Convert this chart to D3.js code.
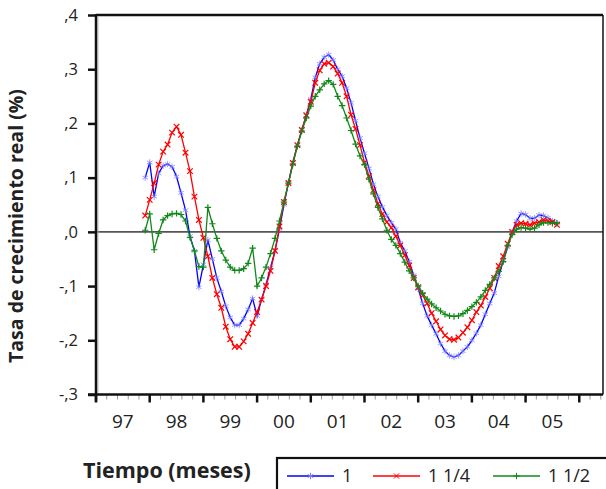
<!DOCTYPE html>
<html><head><meta charset="utf-8">
<script src="https://cdn.jsdelivr.net/npm/d3@7"></script>
<style>body{margin:0;background:#fff}svg{display:block}text{font-family:"Open Sans",sans-serif;fill:#222}</style>
</head><body><svg id="c" width="606" height="489"></svg>
<script>
const startMonth = 11; // months since Jan 1997 (Dec 1997)
const yearLabels = ["97","98","99","00","01","02","03","04","05"];
const yTickValues = [0.4,0.3,0.2,0.1,0,-0.1,-0.2,-0.3];
const yTickLabels = [",4",",3",",2",",1",",0","-,1","-,2","-,3"];
const seriesNames = ["1","1 1/4","1 1/2"];
const s1 = [0.100,0.128,0.065,0.108,0.122,0.125,0.120,0.102,0.072,0.040,-0.008,-0.035,-0.102,-0.060,-0.015,-0.050,-0.085,-0.110,-0.137,-0.158,-0.172,-0.172,-0.160,-0.143,-0.123,-0.155,-0.125,-0.097,-0.066,-0.035,0.005,0.050,0.090,0.128,0.160,0.188,0.215,0.245,0.285,0.310,0.322,0.327,0.317,0.300,0.287,0.265,0.238,0.205,0.173,0.145,0.117,0.088,0.065,0.046,0.030,0.017,0.005,-0.020,-0.035,-0.055,-0.080,-0.105,-0.132,-0.155,-0.172,-0.188,-0.206,-0.220,-0.228,-0.231,-0.228,-0.220,-0.212,-0.200,-0.187,-0.172,-0.152,-0.132,-0.113,-0.082,-0.054,-0.028,0.000,0.020,0.034,0.032,0.025,0.025,0.031,0.030,0.026,0.020,0.016];
const s2 = [0.030,0.059,0.090,0.124,0.148,0.161,0.183,0.194,0.179,0.146,0.112,0.065,0.022,-0.011,-0.045,-0.085,-0.115,-0.140,-0.175,-0.198,-0.212,-0.212,-0.202,-0.188,-0.168,-0.148,-0.125,-0.100,-0.072,-0.035,0.010,0.055,0.090,0.127,0.160,0.188,0.215,0.240,0.275,0.298,0.310,0.312,0.305,0.292,0.275,0.250,0.216,0.190,0.160,0.128,0.103,0.077,0.052,0.033,0.018,0.008,-0.008,-0.025,-0.043,-0.062,-0.085,-0.102,-0.117,-0.132,-0.150,-0.165,-0.180,-0.191,-0.198,-0.199,-0.195,-0.186,-0.176,-0.163,-0.148,-0.136,-0.120,-0.104,-0.085,-0.063,-0.045,-0.022,0.000,0.013,0.016,0.015,0.013,0.016,0.018,0.022,0.020,0.018,0.013];
const s3 = [0.003,0.033,-0.033,-0.003,0.022,0.030,0.033,0.034,0.032,0.020,-0.010,-0.035,-0.064,-0.065,0.045,0.015,-0.012,-0.035,-0.052,-0.065,-0.071,-0.071,-0.068,-0.058,-0.030,-0.100,-0.085,-0.065,-0.040,-0.012,0.020,0.055,0.090,0.125,0.158,0.186,0.210,0.232,0.250,0.262,0.273,0.279,0.272,0.250,0.233,0.210,0.187,0.162,0.140,0.124,0.097,0.070,0.045,0.024,0.003,-0.014,-0.025,-0.040,-0.056,-0.072,-0.085,-0.100,-0.113,-0.124,-0.133,-0.140,-0.146,-0.152,-0.155,-0.156,-0.155,-0.151,-0.145,-0.138,-0.130,-0.120,-0.108,-0.097,-0.085,-0.073,-0.055,-0.025,-0.005,0.005,0.008,0.007,0.005,0.007,0.013,0.017,0.017,0.016,0.016];
const colors = ["#0000ff","#ff0000","#11881a"];
const markerColors = ["#7a7aff","#ff0000","#11881a"];

const svg = d3.select("#c");
const L=96, R=603, T=15, B=394.5;
const x = d3.scaleLinear().domain([0,113.3]).range([L,R]);
const y = d3.scaleLinear().domain([-0.3,0.4]).range([B,T]);

// zero line
svg.append("line").attr("x1",L).attr("x2",R).attr("y1",y(0)).attr("y2",y(0)).attr("stroke","#555").attr("stroke-width",1.6);

// frame
svg.append("line").attr("x1",L).attr("x2",R).attr("y1",T).attr("y2",T).attr("stroke","#111").attr("stroke-width",2.5);
svg.append("line").attr("x1",R).attr("x2",R).attr("y1",T).attr("y2",B).attr("stroke","#111").attr("stroke-width",1.5);
svg.append("line").attr("x1",L+2).attr("x2",L+2).attr("y1",T+1).attr("y2",B).attr("stroke","#bbb").attr("stroke-width",1);

// y axis
const yAxis = d3.axisLeft(y).tickValues(yTickValues).tickSize(8).tickPadding(10)
  .tickFormat((d,i)=>yTickLabels[i]);
const gy = svg.append("g").attr("transform",`translate(${L},0)`).call(yAxis);
gy.select(".domain").remove();
gy.selectAll(".tick line").attr("stroke","#111").attr("stroke-width",2.5);
gy.selectAll(".tick text").attr("font-size",16.5).attr("fill","#222").style("font-family","'Open Sans',sans-serif");
svg.append("line").attr("x1",L).attr("x2",L).attr("y1",T-1).attr("y2",B+7).attr("stroke","#111").attr("stroke-width",2.5);

// x axis
const majors = d3.range(0,10).map(i=>i*12);
const minorTicks = [];
for(let yr=0; yr<10; yr++) for(let k=1;k<5;k++){const v=yr*12+k*2.4; if(v<113) minorTicks.push(v);}
svg.append("g").selectAll("line").data(minorTicks).join("line")
  .attr("x1",d=>x(d)).attr("x2",d=>x(d)).attr("y1",B).attr("y2",B+5).attr("stroke","#999").attr("stroke-width",1);
svg.append("g").selectAll("line").data(majors).join("line")
  .attr("x1",d=>x(d)).attr("x2",d=>x(d)).attr("y1",B).attr("y2",B+8).attr("stroke","#111").attr("stroke-width",2.5);
svg.append("line").attr("x1",L-8).attr("x2",R).attr("y1",B).attr("y2",B).attr("stroke","#111").attr("stroke-width",2.5);
svg.append("g").selectAll("text").data(yearLabels).join("text")
  .attr("x",(d,i)=>x(i*12+6)).attr("y",428).attr("text-anchor","middle").attr("font-size",19).text(d=>d);

// titles
svg.append("text").attr("transform","translate(23,226) rotate(-90)").attr("text-anchor","middle")
  .attr("font-size",19.5).attr("font-weight",700).text("Tasa de crecimiento real (%)");
svg.append("text").attr("x",83).attr("y",478).attr("font-size",21.5).attr("font-weight",700).text("Tiempo (meses)");

// markers
function markerPath(type, r){
  const p = d3.path();
  if(type===0){ // asterisk
    for(let a=0;a<3;a++){const t=a*Math.PI/3+Math.PI/2; p.moveTo(r*Math.cos(t),r*Math.sin(t)); p.lineTo(-r*Math.cos(t),-r*Math.sin(t));}
  } else if(type===1){ // x
    p.moveTo(-r,-r);p.lineTo(r,r);p.moveTo(-r,r);p.lineTo(r,-r);
  } else { // plus
    p.moveTo(-r,0);p.lineTo(r,0);p.moveTo(0,-r);p.lineTo(0,r);
  }
  return p.toString();
}

const allSeries = [s1,s2,s3];
const line = d3.line().x(d=>x(d.m)).y(d=>y(d.v));
allSeries.forEach((s,si)=>{
  const data = s.map((v,i)=>({m:startMonth+i,v}));
  const g = svg.append("g");
  g.append("path").datum(data).attr("d",line).attr("fill","none").attr("stroke",colors[si]).attr("stroke-width",1.3);
  g.selectAll("path.mk").data(data).join("path").attr("class","mk")
    .attr("transform",d=>`translate(${x(d.m)},${y(d.v)})`)
    .attr("d",markerPath(si, si===1?2.8:3.2)).attr("fill","none")
    .attr("stroke",markerColors[si]).attr("stroke-width",si===0?1:1.2).attr("opacity",si===0?0.75:1);
});
// legend
const lg = svg.append("g");
lg.append("rect").attr("x",277).attr("y",458).attr("width",340).attr("height",40).attr("fill","none").attr("stroke","#111").attr("stroke-width",2.2);
const legX = [287,373,493];
seriesNames.forEach((n,i)=>{
  lg.append("line").attr("x1",legX[i]).attr("x2",legX[i]+47).attr("y1",476).attr("y2",476).attr("stroke",colors[i]).attr("stroke-width",1.3);
  lg.append("path").attr("transform",`translate(${legX[i]+23.5},476)`).attr("d",markerPath(i, i===1?2.6:3.2)).attr("fill","none").attr("stroke",markerColors[i]).attr("stroke-width",1);
  lg.append("text").attr("x",legX[i]+55).attr("y",482).attr("font-size",18).text(n);
});
</script></body></html>
